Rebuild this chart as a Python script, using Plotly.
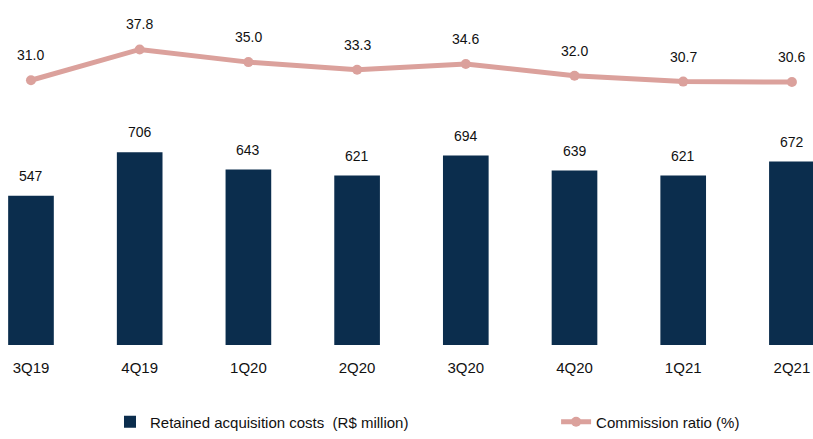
import plotly.graph_objects as go

quarters = ["3Q19", "4Q19", "1Q20", "2Q20", "3Q20", "4Q20", "1Q21", "2Q21"]
acq_costs = [547, 706, 643, 621, 694, 639, 621, 672]
comm_ratio = [31.0, 37.8, 35.0, 33.3, 34.6, 32.0, 30.7, 30.6]

navy = "#0b2d4d"
rose = "#dba19c"
font = "Arial, Liberation Sans, sans-serif"

fig = go.Figure()
fig.add_trace(go.Bar(
  x=quarters, y=acq_costs, name="Retained acquisition costs  (R$ million)",
  marker=dict(color=navy, line=dict(width=0)), width=0.42, yaxis="y", legend="legend",
))
fig.add_trace(go.Scatter(
  x=quarters, y=comm_ratio, name="Commission ratio (%)", mode="lines+markers",
  line=dict(color=rose, width=5), marker=dict(color=rose, size=10), yaxis="y2",
  legend="legend2",
))

# value labels sit a fixed offset above each bar / point
for q, v in zip(quarters, acq_costs):
  fig.add_annotation(x=q, y=v, yref="y", text=str(v), showarrow=False,
                     yshift=20, font=dict(size=14, color="#111111", family=font))
for q, v in zip(quarters, comm_ratio):
  fig.add_annotation(x=q, y=v, yref="y2", text=f"{v:.1f}", showarrow=False,
                     yshift=25, font=dict(size=14, color="#111111", family=font))

leg = dict(orientation="h", xanchor="left", y=-0.223, yanchor="middle",
           font=dict(size=15, color="#111111"), bgcolor="rgba(0,0,0,0)")

fig.update_layout(
  width=813, height=439,
  margin=dict(l=0, r=0, t=0, b=89),
  paper_bgcolor="white", plot_bgcolor="white",
  font=dict(family=font, size=14, color="#111111"),
  xaxis=dict(range=[-0.285, 7.194], showgrid=False, showline=False, zeroline=False,
             ticks="", ticklabelstandoff=12, tickfont=dict(size=15)),
  yaxis=dict(range=[0, 1264], visible=False),
  yaxis2=dict(range=[-27.4, 48.7], overlaying="y", visible=False),
  showlegend=True,
  legend=dict(leg, x=0.1353),
  legend2=dict(leg, x=0.684),
)

fig.write_html("out.html", post_script="document.body.style.margin='0';",
               config={"displayModeBar": False})
